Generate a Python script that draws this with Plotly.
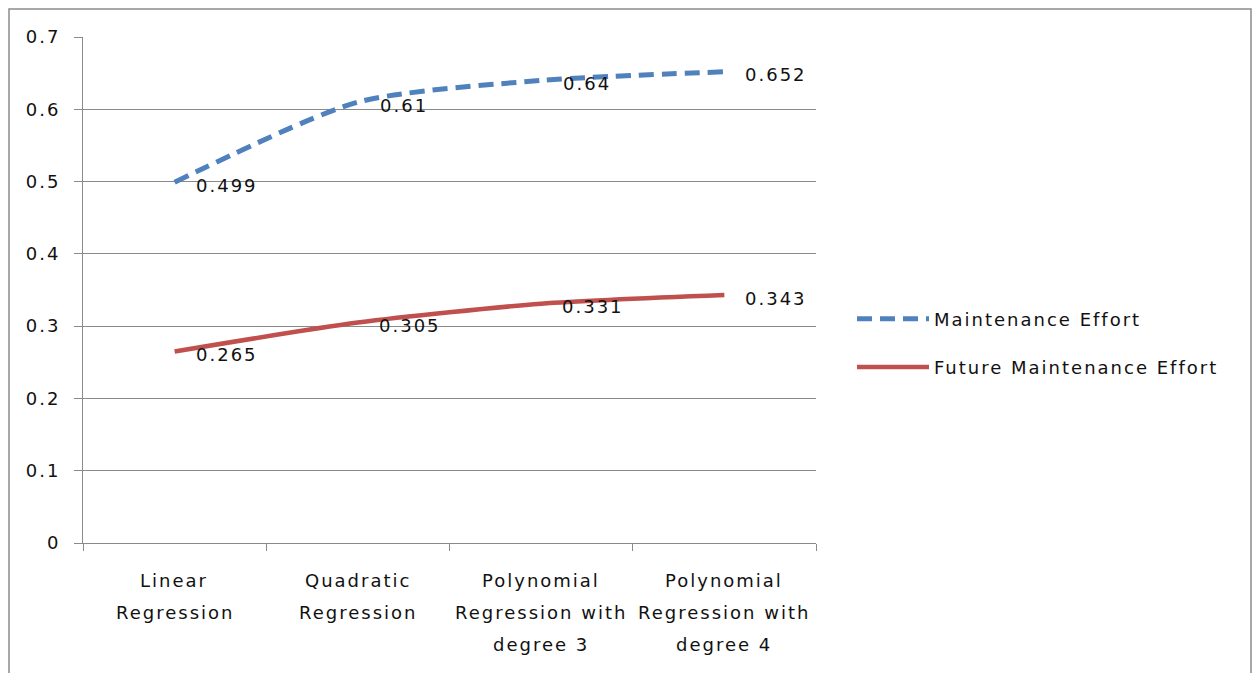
import plotly.graph_objects as go

# Chart data
categories = [
    "Linear Regression",
    "Quadratic Regression",
    "Polynomial Regression with degree 3",
    "Polynomial Regression with degree 4",
]
category_lines = [
    ["Linear", "Regression"],
    ["Quadratic", "Regression"],
    ["Polynomial", "Regression with", "degree 3"],
    ["Polynomial", "Regression with", "degree 4"],
]
series_names = ["Maintenance Effort", "Future Maintenance Effort"]
maintenance_effort = [0.499, 0.61, 0.64, 0.652]
future_maintenance_effort = [0.265, 0.305, 0.331, 0.343]
y_tick_values = [0, 0.1, 0.2, 0.3, 0.4, 0.5, 0.6, 0.7]
y_tick_labels = ["0", "0.1", "0.2", "0.3", "0.4", "0.5", "0.6", "0.7"]

# Styling
FONT = "DejaVu Sans"
FONT_SIZE = 18
TEXT_COLOR = "#111111"
GRID_COLOR = "#8a8a8a"
BLUE = "#4F81BD"
RED = "#C0504D"

W, H = 1257, 673
L, R, T, B = 83, 441, 37, 130
plot_w = W - L - R
plot_h = H - T - B


def px_x(px):
    return (px - L) / plot_w


def px_y(py):
    return (H - B - py) / plot_h


fig = go.Figure()

fig.add_trace(go.Scatter(
    x=categories, y=maintenance_effort, name=series_names[0],
    mode="lines",
    line=dict(color=BLUE, width=5, dash="15px,8px", shape="spline", smoothing=0.7),
    legendgroup="a",
))
fig.add_trace(go.Scatter(
    x=categories, y=future_maintenance_effort, name=series_names[1],
    mode="lines",
    line=dict(color=RED, width=4.5, shape="spline", smoothing=0.7),
    legendgroup="b",
))

annotations = []
# Data labels to the right of each point
for values in (maintenance_effort, future_maintenance_effort):
    for cat, v in zip(categories, values):
        annotations.append(dict(
            x=cat, y=v, xref="x", yref="y", text=f"{v:g}", showarrow=False,
            xanchor="left", yanchor="middle", xshift=24, yshift=-3,
            font=dict(family=FONT, size=FONT_SIZE, color=TEXT_COLOR),
        ))

# Multi-line category labels under the axis
for cat, lines in zip(categories, category_lines):
    for i, line in enumerate(lines):
        annotations.append(dict(
            x=cat, y=0, xref="x", yref="paper", text=line, showarrow=False,
            xanchor="center", yanchor="middle", yshift=-(37 + 32 * i),
            font=dict(family=FONT, size=FONT_SIZE, color=TEXT_COLOR),
        ))

fig.update_layout(
    width=W, height=H,
    margin=dict(l=L, r=R, t=T, b=B),
    paper_bgcolor="white", plot_bgcolor="white",
    font=dict(family=FONT, size=FONT_SIZE, color=TEXT_COLOR),
    showlegend=True,
    legend=dict(
        x=px_x(852), y=px_y(343), xanchor="left", yanchor="middle",
        itemwidth=72, tracegroupgap=22, traceorder="grouped",
        font=dict(family=FONT, size=FONT_SIZE, color=TEXT_COLOR),
        bgcolor="rgba(0,0,0,0)",
    ),
    xaxis=dict(
        type="category", categoryorder="array", categoryarray=categories,
        range=[-0.5, 3.5], showgrid=False, zeroline=False,
        showline=True, linecolor=GRID_COLOR, linewidth=1,
        ticks="outside", tickson="boundaries", ticklen=7, tickcolor=GRID_COLOR,
        showticklabels=False,
    ),
    yaxis=dict(
        range=[0, 0.7001], tickvals=y_tick_values, ticktext=y_tick_labels,
        showgrid=True, gridcolor=GRID_COLOR, gridwidth=1, zeroline=False,
        showline=True, linecolor=GRID_COLOR, linewidth=1,
        ticks="outside", ticklen=8, tickcolor=GRID_COLOR,
        ticklabelstandoff=10,
        tickfont=dict(family=FONT, size=FONT_SIZE, color=TEXT_COLOR),
    ),
    annotations=annotations,
    shapes=[dict(
        type="rect", xref="paper", yref="paper",
        x0=px_x(9), x1=px_x(1251), y0=px_y(700), y1=px_y(9),
        line=dict(color="#8c8c8c", width=1.5), fillcolor="rgba(0,0,0,0)",
        layer="below",
    )],
)

# Slightly wider letter spacing for all chart text; the legend box is
# unclipped so the wider item names stay fully visible.
spacing_js = (
    "document.querySelectorAll('.main-svg text').forEach(function(t){"
    "t.style.letterSpacing='2px';});"
    "document.querySelectorAll('.legend .scrollbox, .legend').forEach(function(e){"
    "e.removeAttribute('clip-path');});"
)

fig.write_html("out.html", post_script=spacing_js)
